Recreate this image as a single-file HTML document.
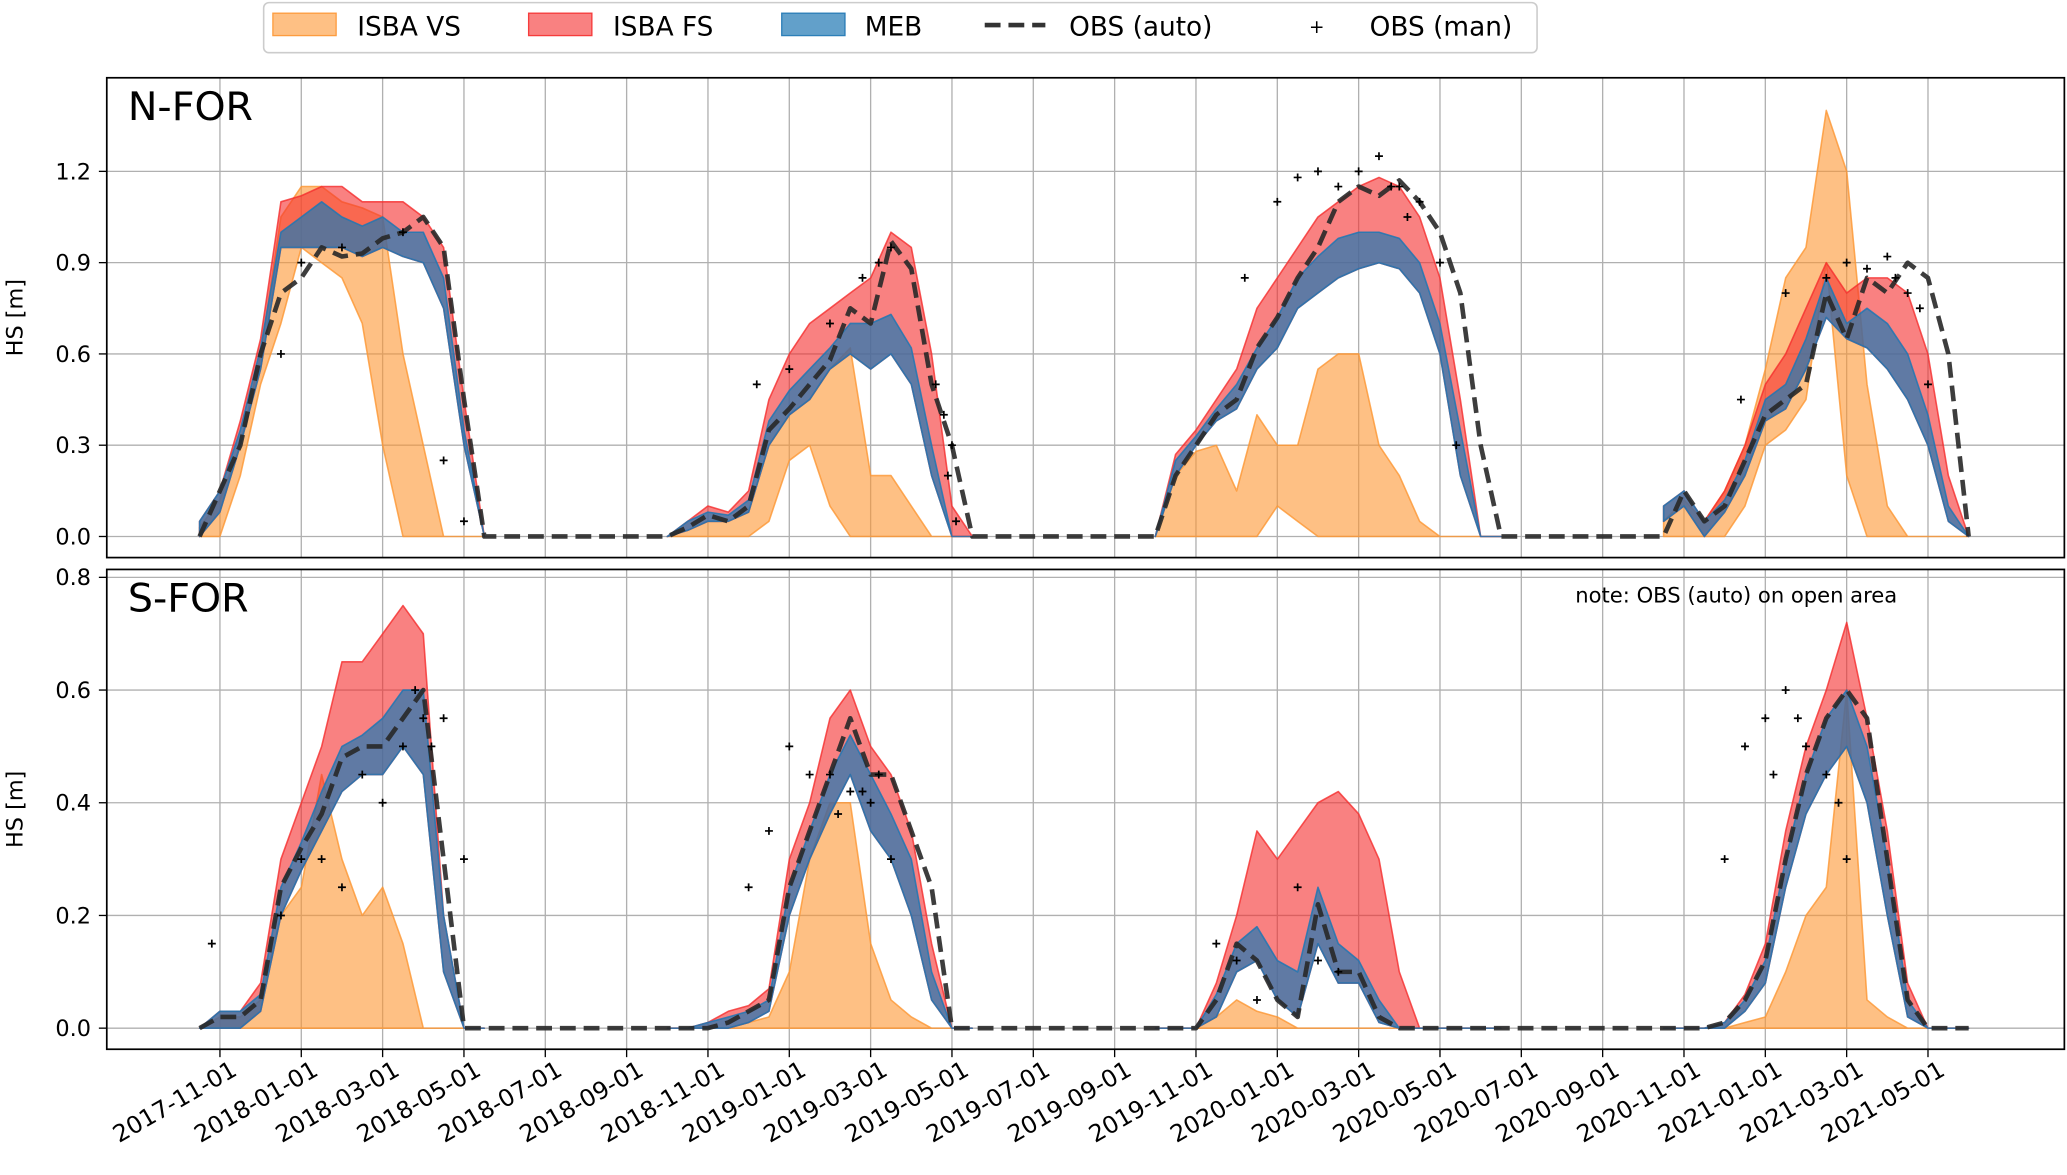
<!DOCTYPE html>
<html><head><meta charset="utf-8">
<style>
html,body{margin:0;padding:0;background:#fff;}
svg{display:block;font-family:"DejaVu Sans","Liberation Sans",sans-serif;}
</style></head>
<body>
<svg id="chart" width="2067" height="1175" viewBox="0 0 1568 891.4" preserveAspectRatio="none" xmlns="http://www.w3.org/2000/svg">
<g id="legend">
  <rect x="200" y="2" width="966" height="38" rx="4" fill="#fff" stroke="#ccc" stroke-width="1.2"/>
  <g><rect x="207" y="10" width="48" height="17" fill="rgba(253,150,50,0.6)" stroke="rgba(253,150,50,0.9)"/><text x="271" y="27" font-size="20">ISBA VS</text></g>
  <g><rect x="401" y="10" width="48" height="17" fill="rgba(245,45,45,0.6)" stroke="rgba(245,45,45,0.9)"/><text x="465" y="27" font-size="20">ISBA FS</text></g>
  <g><rect x="593" y="10" width="48" height="17" fill="rgba(31,119,180,0.7)" stroke="rgba(31,119,180,0.9)"/><text x="656" y="27" font-size="20">MEB</text></g>
  <g><line x1="747" y1="19" x2="793" y2="19" stroke="#333" stroke-width="3.5" stroke-dasharray="12,6"/><text x="811" y="27" font-size="20">OBS (auto)</text></g>
  <g><text x="993" y="25" font-size="14">+</text><text x="1039" y="27" font-size="20">OBS (man)</text></g>
</g>
</svg>
<script>
const tickLabels=["2017-11-01","2018-01-01","2018-03-01","2018-05-01","2018-07-01","2018-09-01","2018-11-01","2019-01-01","2019-03-01","2019-05-01","2019-07-01","2019-09-01","2019-11-01","2020-01-01","2020-03-01","2020-05-01","2020-07-01","2020-09-01","2020-11-01","2021-01-01","2021-03-01","2021-05-01"];
const tickMonths=[1,3,5,7,9,11,13,15,17,19,21,23,25,27,29,31,33,35,37,39,41,43];
const seasonStart=[0.5,12,24,36.5];
// top panel N-FOR
const topObs=[[0,0.15,0.3,0.6,0.8,0.85,0.95,0.92,0.93,0.98,1.0,1.05,0.95,0.45,0],
[0,0.03,0.07,0.05,0.1,0.35,0.42,0.5,0.58,0.75,0.7,0.97,0.88,0.5,0.3,0],
[0,0.2,0.3,0.4,0.45,0.62,0.72,0.85,0.95,1.1,1.15,1.12,1.17,1.1,1.0,0.8,0.3,0],
[0,0.15,0.05,0.1,0.25,0.4,0.45,0.5,0.8,0.65,0.85,0.8,0.9,0.85,0.6,0]];
const topMebLo=[[0,0.08,0.3,0.55,0.95,0.95,0.95,0.95,0.92,0.95,0.92,0.9,0.75,0.3,0],
[0,0.02,0.05,0.05,0.08,0.3,0.4,0.45,0.55,0.6,0.55,0.6,0.5,0.2,0,0],
[0,0.2,0.3,0.38,0.42,0.55,0.62,0.75,0.8,0.85,0.88,0.9,0.88,0.8,0.6,0.2,0,0],
[0.05,0.1,0,0.08,0.2,0.38,0.42,0.55,0.72,0.65,0.62,0.55,0.45,0.3,0.05,0]];
const topMebHi=[[0.05,0.15,0.35,0.62,1.0,1.05,1.1,1.05,1.02,1.05,1.0,1.0,0.85,0.35,0],
[0,0.05,0.08,0.07,0.12,0.38,0.48,0.55,0.62,0.7,0.7,0.73,0.62,0.3,0,0],
[0,0.25,0.33,0.42,0.5,0.62,0.72,0.85,0.92,0.98,1.0,1.0,0.98,0.9,0.7,0.35,0,0],
[0.1,0.15,0.05,0.12,0.25,0.45,0.5,0.65,0.85,0.7,0.75,0.7,0.6,0.4,0.1,0]];
const topFsHi=[[0.05,0.15,0.38,0.65,1.1,1.12,1.15,1.15,1.1,1.1,1.1,1.05,0.95,0.45,0],
[0,0.05,0.1,0.08,0.15,0.45,0.6,0.7,0.75,0.8,0.85,1.0,0.95,0.6,0.1,0],
[0,0.27,0.35,0.45,0.55,0.75,0.85,0.95,1.05,1.1,1.15,1.18,1.15,1.05,0.85,0.45,0,0],
[0.1,0.15,0.05,0.15,0.3,0.5,0.6,0.75,0.9,0.8,0.85,0.85,0.8,0.6,0.2,0]];
const topVsLo=[[0,0,0.2,0.5,0.7,0.95,0.9,0.85,0.7,0.3,0,0,0,0,0],
[0,0,0,0,0,0.05,0.25,0.3,0.1,0,0,0,0,0,0,0],
[0,0,0,0,0,0,0.1,0.05,0,0,0,0,0,0,0,0,0,0],
[0,0,0,0,0.1,0.3,0.35,0.45,0.9,0.2,0,0,0,0,0,0]];
const topVsHi=[[0.03,0.12,0.3,0.6,1.05,1.15,1.15,1.1,1.08,1.05,0.6,0.3,0,0,0],
[0,0.02,0.05,0.05,0.08,0.3,0.4,0.45,0.55,0.62,0.2,0.2,0.1,0,0,0],
[0,0.2,0.28,0.3,0.15,0.4,0.3,0.3,0.55,0.6,0.6,0.3,0.2,0.05,0,0,0,0],
[0.05,0.12,0.05,0.15,0.3,0.55,0.85,0.95,1.4,1.2,0.5,0.1,0,0,0,0]];
const topManMonths=[2.5,3,4,5.5,6.5,7,14.2,15,16,16.8,17.5,18.6,19,19.1,26.2,27,27.5,28,29,29.5,30,30.5,31,31.4,38.4,39.5,40.5,41,41.5,42,42.5,43,29.8,30.2,28.5,42.2,42.8,17.2,18.8,18.9];
const topManVals=[0.6,0.9,0.95,1.0,0.25,0.05,0.5,0.55,0.7,0.85,0.95,0.5,0.3,0.05,0.85,1.1,1.18,1.2,1.2,1.25,1.15,1.1,0.9,0.3,0.45,0.8,0.85,0.9,0.88,0.92,0.8,0.5,1.15,1.05,1.15,0.85,0.75,0.9,0.4,0.2];
// bottom panel S-FOR
const botObs=[[0,0.02,0.02,0.05,0.25,0.32,0.38,0.48,0.5,0.5,0.55,0.6,0.3,0,0],
[0,0,0,0.01,0.03,0.05,0.25,0.35,0.45,0.55,0.45,0.45,0.35,0.25,0,0],
[0,0,0,0.05,0.15,0.12,0.05,0.02,0.22,0.1,0.1,0.02,0,0,0,0,0,0],
[0,0,0,0.01,0.05,0.12,0.3,0.45,0.55,0.6,0.55,0.3,0.05,0,0,0]];
const botMebLo=[[0,0,0,0.03,0.2,0.28,0.35,0.42,0.45,0.45,0.5,0.45,0.1,0,0],
[0,0,0,0,0.01,0.03,0.2,0.3,0.38,0.45,0.35,0.3,0.2,0.05,0,0],
[0,0,0,0.02,0.1,0.12,0.05,0.02,0.15,0.08,0.08,0.01,0,0,0,0,0,0],
[0,0,0,0,0.03,0.08,0.25,0.38,0.45,0.5,0.4,0.2,0.02,0,0,0]];
const botMebHi=[[0,0.03,0.03,0.06,0.25,0.33,0.42,0.5,0.52,0.55,0.6,0.6,0.2,0,0],
[0,0,0.01,0.02,0.03,0.05,0.25,0.35,0.45,0.52,0.45,0.38,0.3,0.1,0,0],
[0,0,0,0.06,0.15,0.18,0.12,0.1,0.25,0.15,0.12,0.05,0,0,0,0,0,0],
[0,0,0,0.01,0.05,0.12,0.3,0.45,0.55,0.6,0.5,0.3,0.05,0,0,0]];
const botFsHi=[[0,0.03,0.03,0.08,0.3,0.4,0.5,0.65,0.65,0.7,0.75,0.7,0.2,0,0],
[0,0,0.01,0.03,0.04,0.07,0.3,0.4,0.55,0.6,0.5,0.45,0.35,0.15,0,0],
[0,0,0,0.08,0.2,0.35,0.3,0.35,0.4,0.42,0.38,0.3,0.1,0,0,0,0,0],
[0,0,0,0.01,0.06,0.15,0.35,0.5,0.6,0.72,0.55,0.35,0.08,0,0,0]];
const botVsLo=[[0,0,0,0,0,0,0,0,0,0,0,0,0,0,0],[0,0,0,0,0,0,0,0,0,0,0,0,0,0,0,0],[0,0,0,0,0,0,0,0,0,0,0,0,0,0,0,0,0,0],[0,0,0,0,0,0,0,0,0,0,0,0,0,0,0,0]];
const botVsHi=[[0,0.02,0.02,0.05,0.2,0.25,0.45,0.3,0.2,0.25,0.15,0,0,0,0],
[0,0,0,0,0.01,0.02,0.1,0.3,0.4,0.4,0.15,0.05,0.02,0,0,0],
[0,0,0,0.02,0.05,0.03,0.02,0,0,0,0,0,0,0,0,0,0,0],
[0,0,0,0,0.01,0.02,0.1,0.2,0.25,0.6,0.05,0.02,0,0,0,0]];
const botManMonths=[0.8,2.5,3,3.5,4,4.5,5,5.5,6,6.5,7,14,14.5,15,15.5,16,16.5,17,17.5,25.5,26,26.5,27.5,28,28.5,38,38.5,39,39.5,40,40.5,41,5.8,6.2,16.2,16.8,17.2,39.2,39.8,40.8];
const botManVals=[0.15,0.2,0.3,0.3,0.25,0.45,0.4,0.5,0.55,0.55,0.3,0.25,0.35,0.5,0.45,0.45,0.42,0.4,0.3,0.15,0.12,0.05,0.25,0.12,0.1,0.3,0.5,0.55,0.6,0.5,0.45,0.3,0.6,0.5,0.38,0.42,0.45,0.45,0.55,0.4];
const topYTicks=[0,0.3,0.6,0.9,1.2];
const botYTicks=[0,0.2,0.4,0.6,0.8];

const NS="http://www.w3.org/2000/svg";
const svg=document.getElementById('chart');
const X0=81,X1=1566;
function xs(m){return 136+m*30.85;}
function mk(tag,attrs,parent){const e=document.createElementNS(NS,tag);for(const k in attrs)e.setAttribute(k,attrs[k]);(parent||svg).appendChild(e);return e;}

function panel(name,label,y0,y1,yMin,yMax,yTicks,obs,mebLo,mebHi,fsHi,vsLo,vsHi,manM,manV,note){
  const g=mk('g',{});
  
  
  const yPix0=name==='panel-n-for'?407:780, yPixMax=name==='panel-n-for'?130:438;
  function ys(v){return yPix0+(v-yMin)/(yMax-yMin)*(yPixMax-yPix0);}
  const grid=mk('g',{},g);
  
  
  tickMonths.forEach(m=>{mk('line',{x1:xs(m),x2:xs(m),y1:y0,y2:y1,stroke:'#b0b0b0','stroke-width':1},grid);});
  yTicks.forEach(v=>{mk('line',{x1:X0,x2:X1,y1:ys(v),y2:ys(v),stroke:'#b0b0b0','stroke-width':1},grid);
    const t=mk('text',{x:X0-12,y:ys(v)+6,'font-size':17,'text-anchor':'end'},g);t.textContent=v.toFixed(1);
    
    
    mk('line',{x1:X0-6,x2:X0,y1:ys(v),y2:ys(v),stroke:'#000','stroke-width':1},g);});
  function band(lo,hi,fill,stroke,nm){
    lo.forEach((l,s)=>{
      const h=hi[s];let d='';
      h.forEach((v,i)=>{d+=(i?'L':'M')+xs(seasonStart[s]+i*0.5).toFixed(1)+','+ys(v).toFixed(1);});
      for(let i=l.length-1;i>=0;i--)d+='L'+xs(seasonStart[s]+i*0.5).toFixed(1)+','+ys(Math.min(l[i],h[i])).toFixed(1);
      const p=mk('path',{d:d+'Z',fill:fill,stroke:stroke,'stroke-width':1.2,'stroke-linejoin':'round'},g);
      
      
    });
  }
  band(vsLo,vsHi,'rgba(253,150,50,0.6)','rgba(253,150,50,0.8)','isba-vs-band');
  band(mebLo,fsHi,'rgba(245,45,45,0.6)','rgba(245,45,45,0.8)','isba-fs-band');
  band(mebLo,mebHi,'rgba(31,119,180,0.7)','rgba(31,119,180,0.85)','meb-band');
  let d='';
  obs.forEach((arr,s)=>arr.forEach((v,i)=>{d+=(d?'L':'M')+xs(seasonStart[s]+i*0.5).toFixed(1)+','+ys(v).toFixed(1);}));
  const ol=mk('path',{d:d,fill:'none',stroke:'rgba(40,40,40,0.9)','stroke-width':3.5,'stroke-dasharray':'12,6','stroke-linejoin':'round'},g);
  
  
  manM.forEach((m,i)=>{
    const x=xs(m),y=ys(manV[i]);
    const pt=mk('path',{d:`M${x-3},${y}L${x+3},${y}M${x},${y-3}L${x},${y+3}`,stroke:'#000','stroke-width':1.3},g);
    
    
  });
  mk('rect',{x:X0,y:y0,width:X1-X0,height:y1-y0,fill:'none',stroke:'#000','stroke-width':1.3},g);
  const lt=mk('text',{x:97,y:y0+32,'font-size':30},g);lt.textContent=label;
  
  
  const yl=mk('text',{x:0,y:0,'font-size':17,'text-anchor':'middle',transform:`translate(17,${(y0+y1)/2}) rotate(-90)`},g);yl.textContent='HS [m]';
  
  
  if(note){const nt=mk('text',{x:1195,y:457,'font-size':16},g);nt.textContent=note;
    
    }
}
panel('panel-n-for','N-FOR',59,423,0,1.2,topYTicks,topObs,topMebLo,topMebHi,topFsHi,topVsLo,topVsHi,topManMonths,topManVals,null);
panel('panel-s-for','S-FOR',432,796,0,0.8,botYTicks,botObs,botMebLo,botMebHi,botFsHi,botVsLo,botVsHi,botManMonths,botManVals,'note: OBS (auto) on open area');
const xg=mk('g',{});


tickMonths.forEach((m,i)=>{
  const x=xs(m);
  mk('line',{x1:x,x2:x,y1:796,y2:802,stroke:'#000','stroke-width':1},xg);
  const t=mk('text',{x:0,y:0,'font-size':18,'text-anchor':'end',transform:`translate(${x+14},${815}) rotate(-30)`},xg);
  t.textContent=tickLabels[i];
  
  
});
svg.appendChild(document.getElementById('legend'));
</script>
</body></html>
